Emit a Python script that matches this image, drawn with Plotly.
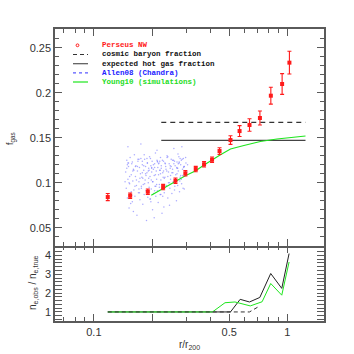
import plotly.graph_objects as go

# Perseus NW gas mass fraction profile
perseus_r = [0.118, 0.154, 0.19, 0.228, 0.264, 0.297, 0.336, 0.371, 0.408,
             0.446, 0.508, 0.566, 0.637, 0.721, 0.821, 0.939, 1.024]
perseus_fgas = [0.0841, 0.0856, 0.0900, 0.0952, 0.1022, 0.1104, 0.1152, 0.1204,
                0.1256, 0.1352, 0.1474, 0.1574, 0.1641, 0.1719, 0.1967, 0.2097, 0.2334]
perseus_err = [0.004, 0.003, 0.003, 0.003, 0.003, 0.003, 0.003, 0.003, 0.003,
               0.0037, 0.0048, 0.006, 0.0069, 0.0078, 0.0094, 0.0115, 0.0126]

# reference levels
level_r = [0.223, 1.24]
cosmic_fb = [0.167, 0.167]
hot_gas_f = [0.147, 0.147]

# Young10 simulations
young_r = [0.198, 0.25, 0.297, 0.336, 0.371, 0.451, 0.508, 0.596, 0.724, 0.883, 1.24]
young_f = [0.086, 0.0985, 0.1078, 0.1133, 0.1197, 0.131, 0.1374, 0.1414, 0.1459, 0.1486, 0.1519]

# Allen08 (Chandra) cloud
allen_r = [0.146, 0.147, 0.148, 0.149, 0.150, 0.151, 0.152, 0.153, 0.154, 0.155,
           0.156, 0.157, 0.158, 0.159, 0.160, 0.161, 0.162, 0.163, 0.164, 0.165,
           0.166, 0.167, 0.168, 0.169, 0.170, 0.171, 0.172, 0.173, 0.174, 0.175,
           0.176, 0.177, 0.178, 0.179, 0.180, 0.181, 0.182, 0.183, 0.184, 0.185,
           0.186, 0.187, 0.188, 0.189, 0.190, 0.191, 0.192, 0.193, 0.194, 0.195,
           0.196, 0.197, 0.198, 0.199, 0.200, 0.201, 0.202, 0.203, 0.204, 0.205,
           0.206, 0.207, 0.208, 0.209, 0.210, 0.211, 0.212, 0.213, 0.214, 0.215,
           0.216, 0.217, 0.218, 0.219, 0.220, 0.221, 0.222, 0.223, 0.224, 0.225,
           0.227, 0.229, 0.231, 0.233, 0.235, 0.237, 0.239, 0.241, 0.243, 0.245,
           0.247, 0.249, 0.251, 0.253, 0.255, 0.257, 0.259, 0.261, 0.263, 0.265,
           0.267, 0.269, 0.271, 0.273, 0.275, 0.277, 0.279, 0.281, 0.284, 0.287,
           0.290, 0.293, 0.296, 0.299, 0.150, 0.175, 0.205, 0.160, 0.230, 0.285,
           0.148, 0.153, 0.158, 0.163, 0.168, 0.173, 0.178, 0.183, 0.188, 0.193,
           0.198, 0.203, 0.208, 0.213, 0.218, 0.223, 0.228, 0.233, 0.238, 0.243,
           0.248, 0.253, 0.258, 0.263, 0.268, 0.273, 0.278, 0.283, 0.288, 0.293,
           0.150, 0.157, 0.164, 0.171, 0.178, 0.185, 0.192, 0.199, 0.206, 0.213,
           0.220, 0.227, 0.234, 0.241, 0.248, 0.255, 0.262, 0.269, 0.276, 0.283,
           0.291, 0.298, 0.302, 0.305, 0.155, 0.182, 0.212, 0.246, 0.272, 0.195,
           0.145, 0.151, 0.156, 0.161, 0.166, 0.171, 0.176, 0.181, 0.186, 0.191,
           0.196, 0.201, 0.206, 0.211, 0.216, 0.221, 0.226, 0.231, 0.236, 0.241,
           0.246, 0.251, 0.256, 0.261, 0.266, 0.271, 0.276, 0.281, 0.286, 0.292,
           0.149, 0.159, 0.169, 0.179, 0.189, 0.199, 0.209, 0.219, 0.229, 0.239,
           0.249, 0.259, 0.269, 0.279, 0.289, 0.297, 0.152, 0.172, 0.197, 0.222]
allen_f = [0.112, 0.094, 0.125, 0.083, 0.104, 0.118, 0.072, 0.099, 0.128, 0.088,
           0.109, 0.121, 0.079, 0.102, 0.115, 0.092, 0.131, 0.085, 0.107, 0.119,
           0.097, 0.064, 0.113, 0.124, 0.089, 0.101, 0.117, 0.081, 0.110, 0.127,
           0.094, 0.106, 0.120, 0.076, 0.098, 0.114, 0.087, 0.126, 0.103, 0.118,
           0.091, 0.058, 0.111, 0.122, 0.084, 0.100, 0.116, 0.095, 0.129, 0.107,
           0.082, 0.119, 0.093, 0.112, 0.124, 0.070, 0.101, 0.115, 0.088, 0.108,
           0.121, 0.096, 0.133, 0.085, 0.113, 0.104, 0.125, 0.091, 0.117, 0.078,
           0.109, 0.122, 0.098, 0.114, 0.087, 0.128, 0.103, 0.119, 0.093, 0.066,
           0.111, 0.124, 0.089, 0.106, 0.118, 0.097, 0.130, 0.083, 0.112, 0.121,
           0.094, 0.108, 0.126, 0.088, 0.115, 0.101, 0.138, 0.092, 0.119, 0.109,
           0.080, 0.123, 0.097, 0.113, 0.129, 0.090, 0.106, 0.120, 0.099, 0.115,
           0.127, 0.093, 0.110, 0.122, 0.140, 0.143, 0.061, 0.068, 0.073, 0.140,
           0.116, 0.107, 0.123, 0.096, 0.118, 0.105, 0.111, 0.099, 0.127, 0.114,
           0.103, 0.120, 0.109, 0.124, 0.095, 0.116, 0.106, 0.122, 0.113, 0.100,
           0.119, 0.111, 0.125, 0.104, 0.117, 0.121, 0.102, 0.125, 0.108, 0.118,
           0.122, 0.086, 0.118, 0.093, 0.124, 0.110, 0.105, 0.116, 0.091, 0.123,
           0.114, 0.085, 0.121, 0.107, 0.116, 0.125, 0.096, 0.110, 0.123, 0.104,
           0.117, 0.128, 0.112, 0.120, 0.077, 0.131, 0.136, 0.075, 0.132, 0.082,
           0.101, 0.122, 0.090, 0.114, 0.103, 0.126, 0.096, 0.119, 0.108, 0.113,
           0.127, 0.101, 0.117, 0.098, 0.121, 0.110, 0.125, 0.105, 0.115, 0.129,
           0.100, 0.118, 0.111, 0.124, 0.103, 0.116, 0.122, 0.108, 0.126, 0.118,
           0.120, 0.113, 0.126, 0.105, 0.122, 0.117, 0.096, 0.124, 0.113, 0.128,
           0.104, 0.121, 0.116, 0.127, 0.094, 0.111, 0.100, 0.089, 0.079, 0.087]

# lower panel: n_e,obs / n_e,true
ratio_solid_r = [0.118, 0.508, 0.57, 0.637, 0.72, 0.82, 0.935, 1.02]
ratio_solid = [1.0, 1.0, 1.67, 1.53, 1.77, 3.04, 2.25, 4.1]
ratio_dash_r = [0.118, 0.637, 0.72]
ratio_dash = [1.0, 1.0, 1.32]
ratio_green_r = [0.118, 0.41, 0.476, 0.536, 0.643, 0.74, 0.82, 0.935, 1.02]
ratio_green = [1.0, 1.0, 1.49, 1.53, 1.32, 1.54, 2.51, 1.89, 3.65]

W, H = 354, 354
L, R, T, B = 55, 30, 29, 33
PW, PH = W - L - R, H - T - B
SPLIT = 75  # height of the lower panel, px
LW = 1.5
FRAME = "#5a5a5a"
RED = "#ff1a1a"
GREEN = "#1ee61e"
BLUE = "#5a5aff"
MONO = "Liberation Mono, monospace"
SANS = "Liberation Sans, Arial, sans-serif"


def px(x, y):
    return (x - L) / PW, (H - B - y) / PH


fig = go.Figure()

fig.add_trace(go.Scatter(x=allen_r, y=allen_f, mode="markers",
                         marker={"size": 1.5, "color": BLUE, "opacity": 0.5},
                         hoverinfo="skip"))
fig.add_trace(go.Scatter(x=level_r, y=cosmic_fb, mode="lines",
                         line={"color": "#333333", "width": 1.2, "dash": "5px,4px"}))
fig.add_trace(go.Scatter(x=level_r, y=hot_gas_f, mode="lines",
                         line={"color": "#444444", "width": 1.2}))
fig.add_trace(go.Scatter(x=young_r, y=young_f, mode="lines",
                         line={"color": GREEN, "width": 1.1}))
fig.add_trace(go.Scatter(x=perseus_r, y=perseus_fgas, mode="markers",
                         marker={"symbol": "square", "size": 4, "color": RED},
                         error_y={"type": "data", "array": perseus_err, "color": RED,
                                  "thickness": 1.1, "width": 2}))

# dashed ratio sits on the overlay axis that carries the separator's lower ticks
fig.add_trace(go.Scatter(x=ratio_dash_r, y=ratio_dash, mode="lines", xaxis="x3", yaxis="y2",
                         line={"color": "#333333", "width": 1, "dash": "4px,3px"}))
fig.add_trace(go.Scatter(x=ratio_solid_r, y=ratio_solid, mode="lines", xaxis="x2", yaxis="y2",
                         line={"color": "#222222", "width": 1}))
fig.add_trace(go.Scatter(x=ratio_green_r, y=ratio_green, mode="lines", xaxis="x2", yaxis="y2",
                         line={"color": GREEN, "width": 1}))

axis_style = dict(showline=True, linecolor=FRAME, linewidth=LW, mirror="allticks",
                  ticks="inside", ticklen=7, tickwidth=1, tickcolor=FRAME,
                  showgrid=False, zeroline=False,
                  tickfont={"family": SANS, "size": 11, "color": "#333333"})
x_minor = {"ticks": "inside", "ticklen": 4, "tickcolor": FRAME,
           "tickvals": [0.07, 0.08, 0.09, 0.3, 0.4, 0.6, 0.7, 0.8, 0.9]}
x_common = dict(type="log", range=[-1.2007, 0.189], tickvals=[0.1, 0.2, 0.5, 1],
                ticktext=["0.1", "", "0.5", "1"], minor=x_minor)

split = SPLIT / PH

fig.update_layout(
    xaxis={**axis_style, **x_common, "anchor": "y", "showticklabels": False},
    yaxis={**axis_style, "anchor": "x", "domain": [split, 1],
           "range": [0.0297, 0.2708], "dtick": 0.05, "tick0": 0,
           "minor": {"ticks": "inside", "ticklen": 4, "dtick": 0.01, "tickcolor": FRAME}},
    xaxis2={**axis_style, **x_common, "anchor": "y2", "mirror": False},
    xaxis3={**axis_style, **x_common, "anchor": "y2", "overlaying": "x2", "side": "top",
            "showline": False, "mirror": False, "showticklabels": False},
    yaxis2={**axis_style, "anchor": "x2", "domain": [0, split],
            "range": [0.52, 4.5], "dtick": 1, "tick0": 0,
            "minor": {"ticks": "inside", "ticklen": 4, "dtick": 0.2, "tickcolor": FRAME}},
)

annotations = []
ax, ay = px(189, 345)
annotations.append(dict(text="r/r<sub>200</sub>", x=ax, y=ay, xref="paper", yref="paper",
                        xanchor="center", yanchor="middle", showarrow=False,
                        font={"family": SANS, "size": 10, "color": "#333"}))
ax, ay = px(11, 139)
annotations.append(dict(text="f<sub>gas</sub>", x=ax, y=ay, xref="paper", yref="paper",
                        xanchor="center", yanchor="middle", textangle=-90, showarrow=False,
                        font={"family": SANS, "size": 9, "color": "#333"}))
ax, ay = px(33, 283)
annotations.append(dict(text="n<sub>e,obs</sub> / n<sub>e,true</sub>", x=ax, y=ay,
                        xref="paper", yref="paper", xanchor="center", yanchor="middle",
                        textangle=-90, showarrow=False,
                        font={"family": SANS, "size": 10, "color": "#333"}))

legend_rows = [
    ("Perseus NW", RED, 45.3),
    ("cosmic baryon fraction", "#111111", 54.5),
    ("expected hot gas fraction", "#111111", 63.7),
    ("Allen08 (Chandra)", "#2020ff", 72.8),
    ("Young10 (simulations)", "#22dd22", 82.0),
]
for label, color, yy in legend_rows:
    lx, ly = px(100, yy)
    annotations.append(dict(text="<b>" + label + "</b>", x=lx, y=ly, xref="paper",
                            yref="paper", xanchor="left", yanchor="middle", showarrow=False,
                            font={"family": MONO, "size": 7.5, "color": color}))

shapes = []
for yy, color, dash in [(54.5, "#333333", "4px,3px"), (63.7, "#555555", "solid"),
                        (72.8, BLUE, "dot"), (82.0, GREEN, "solid")]:
    x0, y0 = px(73, yy)
    x1, _ = px(88, yy)
    shapes.append(dict(type="line", xref="paper", yref="paper", x0=x0, x1=x1,
                       y0=y0, y1=y0, line={"color": color, "width": 1.2, "dash": dash}))
cx, cy = px(77.5, 45.3)
shapes.append(dict(type="circle", xref="paper", yref="paper",
                   x0=cx - 1.4 / PW, x1=cx + 1.4 / PW, y0=cy - 1.4 / PH, y1=cy + 1.4 / PH,
                   line={"color": RED, "width": 1}))

fig.update_layout(width=W, height=H, margin={"l": L, "r": R, "t": T, "b": B},
                  plot_bgcolor="white", paper_bgcolor="white", showlegend=False,
                  annotations=annotations, shapes=shapes)

fig.write_html("out.html", config={"displayModeBar": False},
               post_script="document.body.style.margin='0';")
